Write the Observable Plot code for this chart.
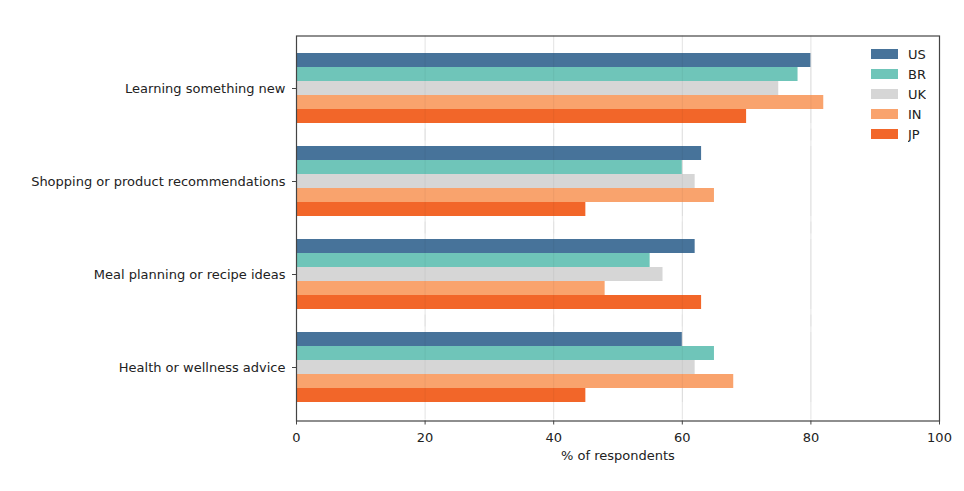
<!DOCTYPE html>
<html>
<head>
<meta charset="utf-8">
<script src="https://cdn.jsdelivr.net/npm/d3@7"></script>
<script src="https://cdn.jsdelivr.net/npm/@observablehq/plot@0.6"></script>
<style>
  html, body { margin: 0; padding: 0; background: #fff; }
  #wrap { position: relative; width: 964px; height: 491px; font-family: "DejaVu Sans", sans-serif; }
  #legend { position: absolute; left: 871px; top: 44px; }
  .lg-swatches-columns { columns: 1 !important; margin: 0 !important; }
  .lg-swatch { height: 20px !important; padding: 0 !important; margin: 0 !important; font-size: 13px !important; font-family: "DejaVu Sans", sans-serif !important; color: #222; }
  .lg-swatch svg { margin-right: 10px !important; }
</style>
</head>
<body>
<div id="wrap"><div id="chart"></div><div id="legend"></div></div>
<script>
const categories = ["Learning something new", "Shopping or product recommendations", "Meal planning or recipe ideas", "Health or wellness advice"];
const countries = ["US", "BR", "UK", "IN", "JP"];
const colors = ["#47739a", "#6fc5b9", "#d6d6d6", "#f9a36d", "#f26629"];
const US = [80, 63, 62, 60];
const BR = [78, 60, 55, 65];
const UK = [75, 62, 57, 62];
const IN = [82, 65, 48, 68];
const JP = [70, 45, 63, 45];
const xTicks = [0, 20, 40, 60, 80, 100];
const gridTicks = [20, 40, 60, 80];

const series = {US, BR, UK, IN, JP};
const data = [];
categories.forEach((c, i) => countries.forEach(k => data.push({category: c, country: k, value: series[k][i]})));

const outer = 17.5;

const chart = Plot.plot({
  width: 964,
  height: 491,
  marginLeft: 296,
  marginRight: 25,
  marginTop: 36,
  marginBottom: 71,
  style: {fontFamily: "DejaVu Sans, sans-serif", fontSize: "13px", color: "#222", background: "#fff"},
  x: {domain: [0, 100]},
  y: {domain: countries, padding: 0, axis: null},
  fy: {domain: categories, paddingInner: 0.247, paddingOuter: 0.188},
  color: {domain: countries, range: colors},
  marks: [
    Plot.ruleX(gridTicks, {x: d => d, stroke: "#e3e3e3", strokeWidth: 1, insetTop: -outer, insetBottom: -outer}),
    Plot.barX(data, {fy: "category", y: "country", x: "value", fill: "country"}),
    Plot.ruleX(gridTicks, {x: d => d, stroke: "#000", strokeOpacity: 0.05, strokeWidth: 1}),
    Plot.frame({stroke: "#444", strokeWidth: 1.2, facet: "super", insetTop: -outer, insetBottom: -outer - 1}),
    Plot.axisFy({anchor: "left", tickSize: 4, tickPadding: 7, label: null, fontSize: 13, stroke: "#444"}),
    Plot.axisX({ticks: xTicks, tickSize: 4, tickPadding: 8, dy: outer + 1, label: "% of respondents", labelAnchor: "center", labelArrow: "none", labelOffset: 57, fontSize: 13, stroke: "#444"})
  ]
});
document.getElementById("chart").appendChild(chart);

const legend = Plot.legend({
  color: {domain: countries, range: colors},
  legend: "swatches",
  columns: 1,
  swatchWidth: 27,
  swatchHeight: 10,
  className: "lg"
});
document.getElementById("legend").appendChild(legend);
</script>
</body>
</html>
